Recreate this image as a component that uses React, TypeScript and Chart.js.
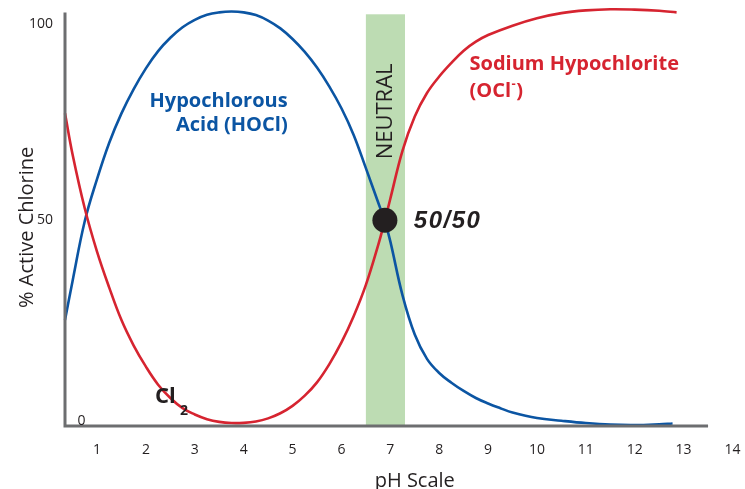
import React, { useEffect, useRef } from 'react';
import { Chart, registerables } from 'chart.js';

Chart.register(...registerables);

// ---- data ----
const xTickValues = [1, 2, 3, 4, 5, 6, 7, 8, 9, 10, 11, 12, 13, 14];
const yTickValues = [0, 50, 100];
const xRange = [0.345, 14];
const yRange = [-2.55, 103.06];
const xAxisEnd = 13.5;

const hoclPH = [0.345, 0.5, 0.75, 1, 1.25, 1.5, 1.75, 2, 2.25, 2.5, 2.75, 3, 3.25, 3.5, 3.75, 4, 4.25, 4.5, 4.75, 5, 5.25, 5.5, 5.75, 6, 6.25, 6.5, 6.75, 6.889, 7, 7.25, 7.5, 7.75, 8, 8.25, 8.5, 8.75, 9, 9.25, 9.5, 10, 10.5, 11, 11.5, 12, 12.5, 12.774];
const hoclPct = [24.5, 34.5, 49.8, 60.5, 69.8, 77.3, 83.5, 88.8, 93.2, 96.6, 99.3, 101.2, 102.5, 103.1, 103.3, 103.1, 102.4, 101.0, 99.0, 96.3, 93.0, 89.0, 84.2, 78.6, 71.8, 63.3, 54.6, 49.7, 44.6, 30.8, 20.8, 14.6, 11.0, 8.5, 6.4, 4.6, 3.2, 2.0, 0.9, -0.5, -1.2, -1.8, -2.2, -2.3, -2.1, -1.9];

const oclPH = [0.345, 0.5, 0.75, 1, 1.25, 1.5, 1.75, 2, 2.25, 2.5, 2.75, 3, 3.25, 3.5, 3.75, 4, 4.25, 4.5, 4.75, 5, 5.25, 5.5, 5.75, 6, 6.25, 6.5, 6.75, 6.889, 7, 7.25, 7.5, 7.75, 8, 8.25, 8.5, 8.75, 9, 9.5, 10, 10.5, 11, 11.5, 12, 12.5, 12.856];
const oclPct = [77.3, 66.8, 53.0, 42.0, 32.8, 24.5, 18.0, 12.6, 8.0, 4.6, 2.0, 0.4, -0.8, -1.5, -1.8, -1.75, -1.4, -0.6, 0.7, 2.6, 5.2, 8.6, 13.2, 18.8, 25.5, 33.5, 43.6, 50.0, 55.5, 67.8, 76.5, 82.5, 86.7, 90.2, 93.3, 95.6, 97.3, 99.7, 101.6, 102.9, 103.6, 103.9, 103.8, 103.5, 103.1];

const equalPH = 6.889;
const equalPct = 50;
const neutralRange = [6.5, 7.3];
const neutralTop = 102.6;

const FONT = '"Open Sans", "Noto Sans", sans-serif';
const BLUE = '#0b55a3';
const RED = '#d62430';
const INK = '#231f20';
const AXIS = '#6d6e70';

const overlayPlugin = {
  id: 'overlay',
  beforeDatasetsDraw(chart: any) {
    const { ctx, chartArea, scales } = chart;
    const x = scales.x;
    const y = scales.y;
    const x0 = x.getPixelForValue(neutralRange[0]);
    const x1 = x.getPixelForValue(neutralRange[1]);
    const yt = y.getPixelForValue(neutralTop);
    ctx.save();
    ctx.fillStyle = '#bddcb3';
    ctx.fillRect(x0, yt, x1 - x0, chartArea.bottom - yt);
    ctx.translate((x0 + x1) / 2, y.getPixelForValue(77.8));
    ctx.rotate(-Math.PI / 2);
    ctx.font = '22px ' + FONT;
    ctx.fillStyle = INK;
    ctx.textAlign = 'center';
    ctx.textBaseline = 'middle';
    ctx.fillText('NEUTRAL', 0, 0);
    ctx.restore();
  },
  afterDatasetsDraw(chart: any) {
    const { ctx, chartArea, scales } = chart;
    const x = scales.x;
    const y = scales.y;
    ctx.save();
    // axes
    ctx.strokeStyle = AXIS;
    ctx.lineWidth = 3;
    ctx.beginPath();
    ctx.moveTo(chartArea.left, chartArea.top);
    ctx.lineTo(chartArea.left, chartArea.bottom + 1.5);
    ctx.moveTo(chartArea.left - 1.5, chartArea.bottom);
    ctx.lineTo(x.getPixelForValue(xAxisEnd), chartArea.bottom);
    ctx.stroke();

    // zero label
    ctx.fillStyle = INK;
    ctx.font = '14px ' + FONT;
    ctx.textAlign = 'center';
    ctx.textBaseline = 'middle';
    ctx.fillText('0', x.getPixelForValue(0.685), y.getPixelForValue(-1.3));

    // axis titles
    ctx.font = '20px ' + FONT;
    ctx.fillStyle = INK;
    ctx.fillText('pH Scale', x.getPixelForValue(7.5), chartArea.bottom + 55);
    ctx.save();
    ctx.translate(27, y.getPixelForValue(48.2));
    ctx.rotate(-Math.PI / 2);
    ctx.fillText('% Active Chlorine', 0, 0);
    ctx.restore();

    // HOCl label
    ctx.textBaseline = 'alphabetic';
    ctx.textAlign = 'right';
    ctx.fillStyle = BLUE;
    ctx.font = 'bold 20px ' + FONT;
    const bx = x.getPixelForValue(4.9);
    ctx.fillText('Hypochlorous', bx, y.getPixelForValue(78.8));
    ctx.fillText('Acid (HOCl)', bx, y.getPixelForValue(72.7));

    // OCl- label
    ctx.textAlign = 'left';
    ctx.fillStyle = RED;
    const rx = x.getPixelForValue(8.62);
    ctx.fillText('Sodium Hypochlorite', rx, y.getPixelForValue(88.3));
    const ry2 = y.getPixelForValue(81.4);
    ctx.fillText('(OCl', rx, ry2);
    const w = ctx.measureText('(OCl').width;
    ctx.font = 'bold 13px ' + FONT;
    ctx.fillText('-', rx + w + 0.5, ry2 - 9);
    const wm = ctx.measureText('-').width;
    ctx.font = 'bold 20px ' + FONT;
    ctx.fillText(')', rx + w + wm + 1, ry2);

    // Cl2
    ctx.fillStyle = INK;
    ctx.font = 'bold 22px ' + FONT;
    ctx.fillText('Cl', x.getPixelForValue(2.185), y.getPixelForValue(3.3));
    ctx.font = 'bold 14px ' + FONT;
    ctx.fillText('2', x.getPixelForValue(2.7), y.getPixelForValue(0.3));

    // 50/50
    ctx.font = 'italic bold 24px "Liberation Sans", Arial, sans-serif';
    try { (ctx as any).letterSpacing = '1.5px'; } catch (e) { /* ignore */ }
    ctx.fillText('50/50', x.getPixelForValue(7.48), y.getPixelForValue(48.0));
    ctx.restore();
  },
};

export default function App() {
  const ref = useRef<HTMLCanvasElement | null>(null);

  useEffect(() => {
    if (!ref.current) return;
    const chart = new Chart(ref.current, {
      type: 'scatter',
      data: {
        datasets: [
          {
            label: '50/50',
            data: [{ x: equalPH, y: equalPct }],
            pointRadius: 12.5,
            pointBackgroundColor: INK,
            pointBorderWidth: 0,
            showLine: false,
            clip: false,
          } as any,
          {
            label: 'Sodium Hypochlorite (OCl-)',
            data: oclPH.map((v, i) => ({ x: v, y: oclPct[i] })),
            showLine: true,
            borderColor: RED,
            borderWidth: 2.6,
            pointRadius: 0,
            tension: 0.4,
            clip: false,
          } as any,
          {
            label: 'Hypochlorous Acid (HOCl)',
            data: hoclPH.map((v, i) => ({ x: v, y: hoclPct[i] })),
            showLine: true,
            borderColor: BLUE,
            borderWidth: 2.6,
            pointRadius: 0,
            tension: 0.4,
            clip: false,
          } as any,
        ],
      },
      options: {
        animation: false,
        responsive: false,
        layout: { padding: { top: 12, right: 12, left: 0, bottom: 0 } },
        plugins: { legend: { display: false }, tooltip: { enabled: false } },
        scales: {
          x: {
            type: 'linear',
            min: xRange[0],
            max: xRange[1],
            afterBuildTicks: (s: any) => {
              s.ticks = xTickValues.map((v) => ({ value: v }));
            },
            afterFit: (s: any) => {
              s.height = 63;
              s.paddingLeft = 0;
              s.paddingRight = 0;
            },
            grid: { display: false, drawTicks: false },
            border: { display: false },
            ticks: {
              autoSkip: false,
              maxRotation: 0,
              padding: 16,
              color: INK,
              font: { family: FONT, size: 14 },
              callback: (v: any) => String(v),
            },
          },
          y: {
            type: 'linear',
            min: yRange[0],
            max: yRange[1],
            afterBuildTicks: (s: any) => {
              s.ticks = yTickValues.map((v) => ({ value: v }));
            },
            afterFit: (s: any) => {
              s.width = 65;
              s.paddingTop = 0;
              s.paddingBottom = 0;
            },
            grid: { display: false, drawTicks: false },
            border: { display: false },
            ticks: {
              padding: 12,
              color: INK,
              font: { family: FONT, size: 14 },
              callback: (v: any) => (v === 0 ? '' : String(v)),
            },
          },
        },
      },
      plugins: [overlayPlugin],
    });
    return () => chart.destroy();
  }, []);

  return (
    <div style={{ position: 'fixed', left: 0, top: 0, width: 745, height: 489, background: '#fff' }}>
      <canvas ref={ref} width={745} height={489} style={{ display: 'block' }} />
    </div>
  );
}
